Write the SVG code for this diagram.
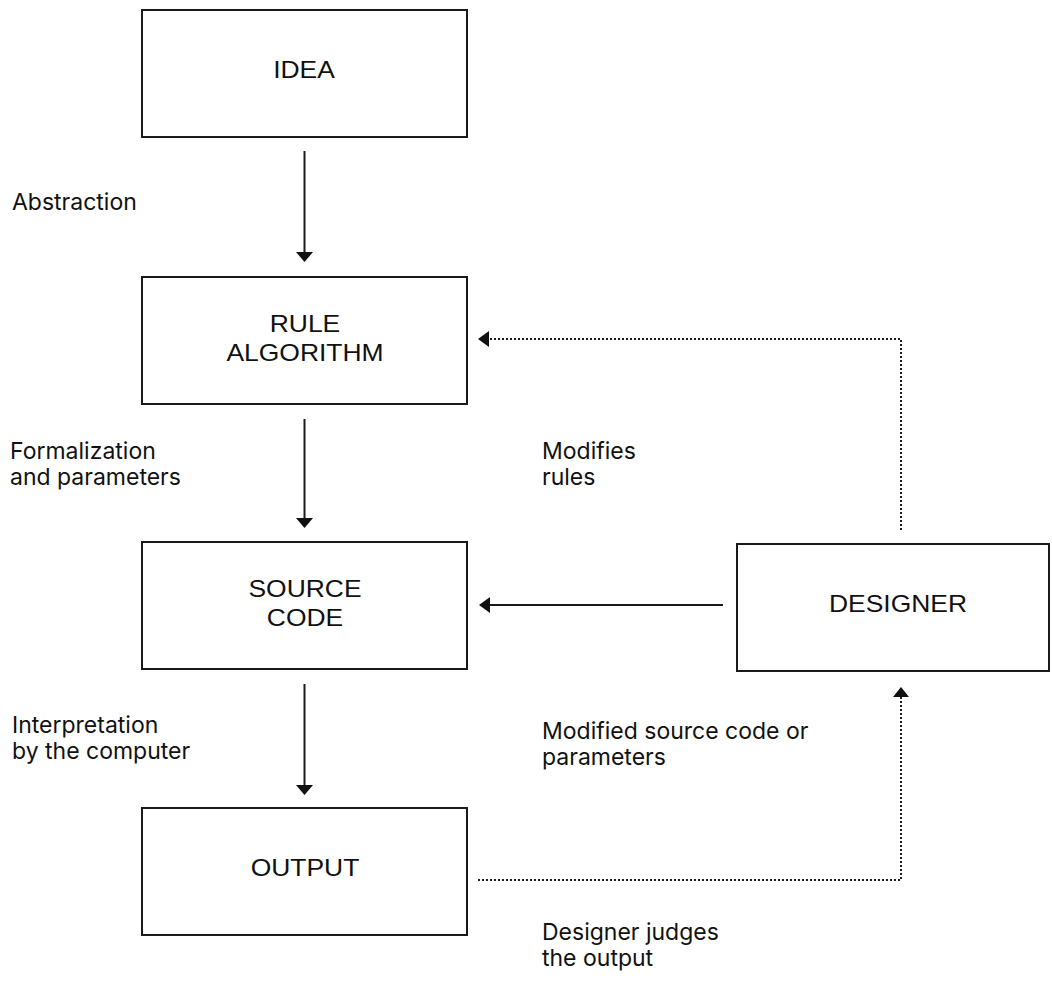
<svg xmlns="http://www.w3.org/2000/svg" width="1052" height="981" viewBox="0 0 1052 981">
<style>
.box{fill:#fff;stroke:#1a1a1a;stroke-width:2}
.bt{font-family:"Liberation Sans",Arial,sans-serif;font-size:23px;fill:#111;text-anchor:middle}
.lb{font-family:Inter,"Liberation Sans",sans-serif;font-size:23px;fill:#111}
.ln{fill:none;stroke:#1a1a1a;stroke-width:2}
.dt{fill:none;stroke:#1a1a1a;stroke-width:2;stroke-dasharray:2 2}
.ah{fill:#111}
</style>
<rect width="1052" height="981" fill="#fff"/>
<g id="connectors">
<line class="ln" x1="304.5" y1="151" x2="304.5" y2="253"/>
<polygon class="ah" points="296,252 313,252 304.5,262"/>
<line class="ln" x1="304.5" y1="419" x2="304.5" y2="519"/>
<polygon class="ah" points="296,518 313,518 304.5,528"/>
<line class="ln" x1="304.5" y1="684" x2="304.5" y2="786"/>
<polygon class="ah" points="296,785 313,785 304.5,795"/>
<line class="ln" x1="723" y1="605" x2="489" y2="605"/>
<polygon class="ah" points="479,605 490,597 490,613"/>
<polyline class="dt" points="901,530 901,339 489,339"/>
<polygon class="ah" points="478,339 489,331 489,347"/>
<polyline class="dt" points="478,880 901,880 901,697"/>
<polygon class="ah" points="901,687 893,697 909,697"/>
</g>
<g id="idea">
<rect class="box" x="142" y="10" width="325" height="127"/>
<text class="bt" transform="translate(304,78) scale(1.15,1)">IDEA</text>
</g>
<g id="rule">
<rect class="box" x="142" y="277" width="325" height="127"/>
<text class="bt" transform="translate(305,332) scale(1.15,1)">RULE</text>
<text class="bt" transform="translate(305,361) scale(1.15,1)">ALGORITHM</text>
</g>
<g id="source">
<rect class="box" x="142" y="542" width="325" height="127"/>
<text class="bt" transform="translate(305,597) scale(1.15,1)">SOURCE</text>
<text class="bt" transform="translate(305,626) scale(1.15,1)">CODE</text>
</g>
<g id="output">
<rect class="box" x="142" y="808" width="325" height="127"/>
<text class="bt" transform="translate(305,876) scale(1.15,1)">OUTPUT</text>
</g>
<g id="designer">
<rect class="box" x="737" y="544" width="312" height="127"/>
<text class="bt" transform="translate(898,612) scale(1.15,1)">DESIGNER</text>
</g>
<g id="labels">
<text class="lb" x="12" y="210">Abstraction</text>
<text class="lb" x="10" y="459">Formalization</text>
<text class="lb" x="10" y="485">and parameters</text>
<text class="lb" x="12" y="733">Interpretation</text>
<text class="lb" x="12" y="759">by the computer</text>
<text class="lb" x="542" y="459">Modifies</text>
<text class="lb" x="542" y="485">rules</text>
<text class="lb" x="542" y="739">Modified source code or</text>
<text class="lb" x="542" y="765">parameters</text>
<text class="lb" x="542" y="940">Designer judges</text>
<text class="lb" x="542" y="966">the output</text>
</g>
</svg>
